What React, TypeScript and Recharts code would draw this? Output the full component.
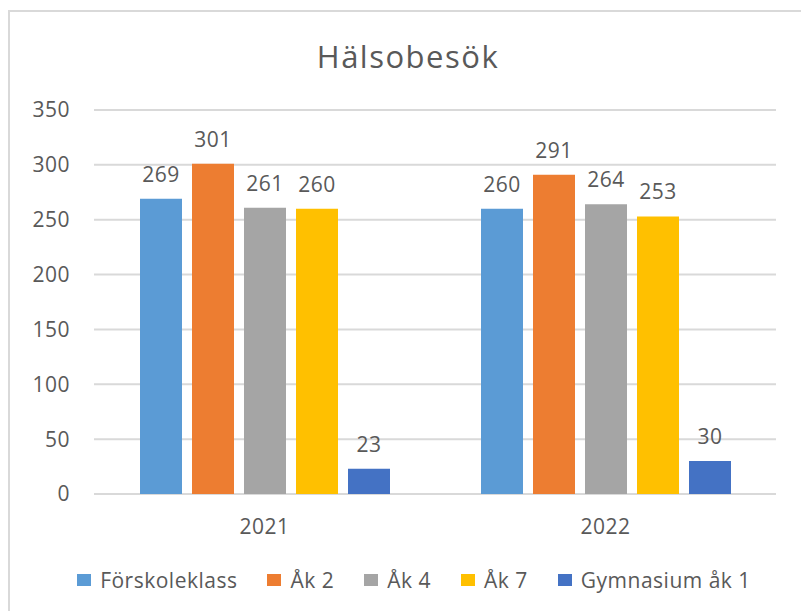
import { BarChart, Bar, XAxis, YAxis, CartesianGrid, LabelList } from "recharts";

const years = ["2021", "2022"];
const seriesNames = ["Förskoleklass", "Åk 2", "Åk 4", "Åk 7", "Gymnasium åk 1"];
const forskoleklass = [269, 260];
const ak2 = [301, 291];
const ak4 = [261, 264];
const ak7 = [260, 253];
const gymnasium = [23, 30];
const yTicks = [0, 50, 100, 150, 200, 250, 300, 350];

const colors = ["#5B9BD5", "#ED7D31", "#A5A5A5", "#FFC000", "#4472C4"];
const seriesValues = [forskoleklass, ak2, ak4, ak7, gymnasium];

const data = years.map((year, i) => {
  const row: Record<string, string | number> = { year };
  seriesValues.forEach((values, s) => {
    row["s" + s] = values[i];
  });
  return row;
});

const font = "'Open Sans', sans-serif";
const textColor = "#595959";
const tickStyle = { fill: textColor, fontSize: 21, fontFamily: font, letterSpacing: 0.5 };

export default function App() {
  return (
    <div
      style={{
        position: "fixed",
        left: 0,
        top: 0,
        width: 801,
        height: 611,
        overflow: "hidden",
        background: "#fff",
        fontFamily: font,
      }}
    >
      <div
        style={{
          position: "absolute",
          left: 8,
          top: 10,
          width: 804,
          height: 604,
          border: "2px solid #d9d9d9",
          boxSizing: "border-box",
        }}
      >
        <div
          style={{
            position: "absolute",
            top: 23,
            left: 0,
            width: 796,
            textAlign: "center",
            fontSize: 31,
            letterSpacing: 1.5,
            color: textColor,
            lineHeight: "normal",
          }}
        >
          Hälsobesök
        </div>

        <div style={{ position: "absolute", left: 0, top: 0 }}>
          <BarChart
            width={800}
            height={600}
            data={data}
            margin={{ top: 98, right: 34, bottom: 78, left: 0 }}
            barSize={42}
            barGap={10}
          >
            <CartesianGrid vertical={false} stroke="#d9d9d9" strokeWidth={2} />
            <XAxis
              dataKey="year"
              axisLine={false}
              tickLine={false}
              tickSize={0}
              tickMargin={25}
              height={40}
              tick={tickStyle}
            />
            <YAxis
              domain={[0, 350]}
              ticks={yTicks}
              axisLine={false}
              tickLine={false}
              tickSize={0}
              tickMargin={24}
              width={84}
              tick={tickStyle}
            />
            {seriesNames.map((name, s) => (
              <Bar
                key={name}
                dataKey={"s" + s}
                name={name}
                fill={colors[s]}
                isAnimationActive={false}
              >
                <LabelList
                  dataKey={"s" + s}
                  position="top"
                  offset={17}
                  fill={textColor}
                  fontSize={21}
                  fontFamily={font}
                  letterSpacing={0.5}
                />
              </Bar>
            ))}
          </BarChart>
        </div>

        <div
          style={{
            position: "absolute",
            top: 554,
            left: 6,
            width: 796,
            display: "flex",
            justifyContent: "center",
            alignItems: "center",
            fontSize: 21,
            letterSpacing: 0.5,
            color: textColor,
            lineHeight: "normal",
          }}
        >
          {seriesNames.map((name, s) => (
            <div
              key={name}
              style={{ display: "flex", alignItems: "center", marginRight: s < seriesNames.length - 1 ? 30 : 0 }}
            >
              <span
                style={{ width: 14, height: 12, background: colors[s], marginRight: 9, display: "inline-block" }}
              />
              <span>{name}</span>
            </div>
          ))}
        </div>
      </div>
    </div>
  );
}
